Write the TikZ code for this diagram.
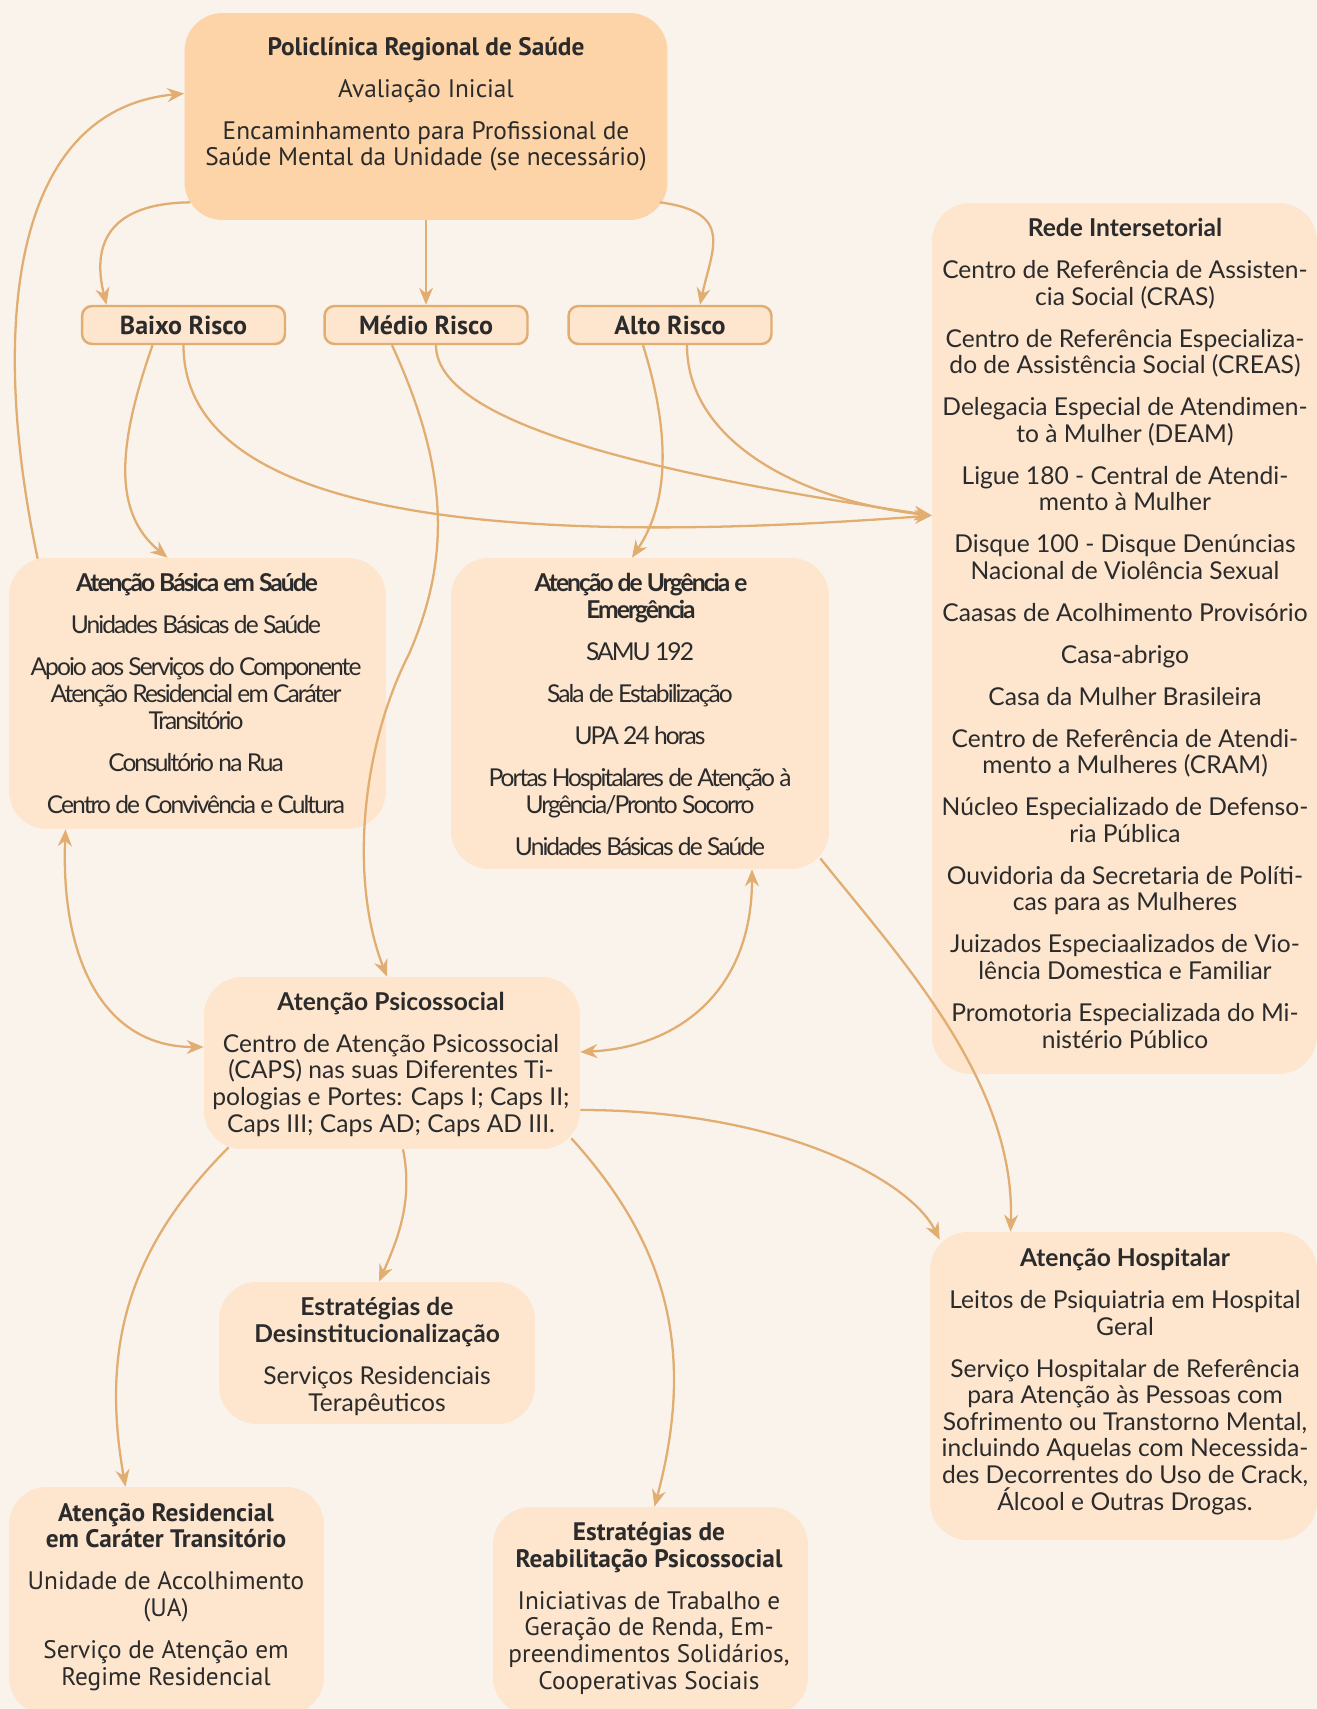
\documentclass[tikz,border=0pt]{standalone}
\usepackage{fontspec}
\setmainfont{Lato}
\newfontfamily\ptsans{PT Sans}
\newfontfamily\tightfont[LetterSpace=-8]{Lato}
\usetikzlibrary{arrows.meta,positioning,calc}
\definecolor{paper}{HTML}{FAF3EC}
\definecolor{peach}{HTML}{FDD3A8}
\definecolor{cream}{HTML}{FDE5CE}
\definecolor{linkc}{HTML}{E2AD70}
\definecolor{ink}{HTML}{2B2B2B}
\newcommand{\itemgap}{\\[8.8pt]}
\newcommand{\bodysize}{\fontsize{14}{15.1}\selectfont}
\newcommand{\ptsize}{\fontsize{14.4}{15.1}\selectfont}

\begin{document}
\begin{tikzpicture}[x=0.02cm,y=-0.02cm,
  panel/.style={fill=cream,rounded corners=0.76cm,inner sep=0pt},
  riskbox/.style={draw=linkc,line width=1.4pt,fill=cream,rounded corners=0.2cm,minimum width=4.06cm,minimum height=0.76cm,inner sep=0pt,text=ink,font=\ptsans\bfseries\fontsize{14.8}{15}\selectfont},
  txt/.style={align=center,anchor=base,inner sep=0pt,text=ink,font=\bodysize},
  link/.style={draw=linkc,line width=1.3pt,-{Stealth[length=0.34cm,width=0.28cm]}},
  both/.style={link,{Stealth[length=0.34cm,width=0.28cm]}-{Stealth[length=0.34cm,width=0.28cm]}}]

  \path[use as bounding box] (0,0) rectangle (1317,1709);
  \fill[paper] (0,0) rectangle (1317,1709);

  % boxes
  \node[panel,fill=peach,minimum width=9.66cm,minimum height=4.14cm] (poli) at (426,116.5) {};
  \node[riskbox] (baixo) at (183.5,325) {Baixo Risco};
  \node[riskbox] (medio) at (426,325) {Médio Risco};
  \node[riskbox] (alto) at (670,325) {Alto Risco};
  \node[panel,minimum width=7.7cm,minimum height=17.42cm] (rede) at (1124.5,638.5) {};
  \node[panel,minimum width=7.54cm,minimum height=5.42cm] (basica) at (197.5,693.5) {};
  \node[panel,minimum width=7.56cm,minimum height=6.22cm] (urgencia) at (640,713.5) {};
  \node[panel,minimum width=7.52cm,minimum height=3.44cm] (psico) at (392,1063) {};
  \node[panel,minimum width=6.32cm,minimum height=2.84cm] (desinst) at (377,1353) {};
  \node[panel,minimum width=6.3cm,minimum height=4.56cm] (resid) at (166.5,1601) {};
  \node[panel,minimum width=6.3cm,minimum height=4.16cm] (reab) at (650.5,1611) {};
  \node[panel,minimum width=7.74cm,minimum height=6.16cm] (hosp) at (1123.5,1386) {};

  % policlinica -> risco
  \draw[link] ([xshift=0.12cm,yshift=0.36cm]poli.south west) .. controls +(-86,1) and +(-14,-56) .. ([xshift=-1.54cm]baixo.north);
  \draw[link] (poli) -- (medio);
  \draw[link] ([xshift=-0.16cm,yshift=0.36cm]poli.south east) .. controls +(75,10) and +(12,-56) .. ([xshift=0.6cm]alto.north);

  % risco -> servicos
  \draw[link] ([xshift=-0.62cm]baixo.south) .. controls +(-35,100) and +(-55,-45) .. ([xshift=-0.6cm]basica.north);
  \draw[link] (baixo.south) .. controls +(0,196) and +(-332,25) .. ([yshift=2.46cm]rede.west);
  \draw[link] ([xshift=-0.68cm]medio.south) .. controls +(58,126) and (450,560) .. (409,654)
    .. controls (360,750) and +(-37,-94) .. ([xshift=-0.1cm]psico.north);
  \draw[link] ([xshift=0.2cm]medio.south) .. controls +(0,86) and +(-232,-35) .. ([yshift=2.46cm]rede.west);
  \draw[link] ([xshift=-0.54cm]alto.south) .. controls +(25,80) and +(40,-60) .. ([xshift=-0.16cm]urgencia.north);
  \draw[link] ([xshift=0.34cm]alto.south) .. controls +(0,96) and +(-132,-15) .. ([yshift=2.46cm]rede.west);

  % retorno
  \draw[link] ([xshift=0.58cm,yshift=-0.02cm]basica.north west) .. controls +(-48,-226) and +(-175,16.5) .. ([yshift=0.46cm]poli.west);

  % psicossocial
  \draw[both] ([xshift=-2.64cm]basica.south) .. controls +(-5,130) and +(-100,0) .. ([yshift=0.32cm]psico.west);
  \draw[both] ([xshift=2.24cm]urgencia.south) .. controls +(0,120) and +(100,-5) .. ([yshift=0.22cm]psico.east);
  \draw[link] ([xshift=-0.18cm,yshift=0.22cm]urgencia.south east) .. controls +(80,100) and +(5,-150) .. ([xshift=-2.26cm]hosp.north);
  \draw[link] ([yshift=-0.94cm]psico.east) .. controls +(200,0) and +(-30,-60) .. ([xshift=0.2cm,yshift=-0.16cm]hosp.north west);
  \draw[link] ([xshift=0.5cm,yshift=0.04cm]psico.south west) .. controls +(-100,100) and +(-25,-140) .. ([xshift=-0.82cm]resid.north);
  \draw[link] ([xshift=0.22cm]psico.south) .. controls +(10,50) and +(20,-45) .. ([xshift=0.04cm]desinst.north);
  \draw[link] ([xshift=-0.18cm,yshift=0.22cm]psico.south east) .. controls +(100,110) and +(40,-150) .. ([xshift=0.08cm]reab.north);

  % texts (base = last line)
  \node[txt,font=\ptsans\ptsize] (poli-txt) at (426,166)
    {\textbf{Policlínica Regional de Saúde}\itemgap Avaliação Inicial\itemgap
     Encaminhamento para Profissional de\\Saúde Mental da Unidade (se necessário)};
  \node[txt] (rede-txt) at (1125,1048)
    {\textbf{Rede Intersetorial}\itemgap
     Centro de Referência de Assisten-\\cia Social (CRAS)\itemgap
     Centro de Referência Especializa-\\do de Assistência Social (CREAS)\itemgap
     Delegacia Especial de Atendimen-\\to à Mulher (DEAM)\itemgap
     Ligue 180 - Central de Atendi-\\mento à Mulher\itemgap
     Disque 100 - Disque Denúncias\\Nacional de Violência Sexual\itemgap
     Caasas de Acolhimento Provisório\itemgap
     Casa-abrigo\itemgap
     Casa da Mulher Brasileira\itemgap
     Centro de Referência de Atendi-\\mento a Mulheres (CRAM)\itemgap
     Núcleo Especializado de Defenso-\\ria Pública\itemgap
     Ouvidoria da Secretaria de Políti-\\cas para as Mulheres\itemgap
     Juizados Especiaalizados de Vio-\\lência Domestica e Familiar\itemgap
     Promotoria Especializada do Mi-\\nistério Público};
  \node[txt,font=\tightfont\bodysize] (basica-txt) at (196,813)
    {\textbf{Atenção Básica em Saúde}\itemgap Unidades Básicas de Saúde\itemgap
     Apoio aos Serviços do Componente\\Atenção Residencial em Caráter\\Transitório\itemgap
     Consultório na Rua\itemgap Centro de Convivência e Cultura};
  \node[txt,font=\tightfont\bodysize] (urgencia-txt) at (640,855)
    {\textbf{Atenção de Urgência e}\\\textbf{Emergência}\itemgap SAMU 192\itemgap
     Sala de Estabilização\itemgap UPA 24 horas\itemgap
     Portas Hospitalares de Atenção à\\Urgência/Pronto Socorro\itemgap
     Unidades Básicas de Saúde};
  \node[txt] (psico-txt) at (391,1132)
    {\textbf{Atenção Psicossocial}\itemgap Centro de Atenção Psicossocial\\(CAPS) nas suas Diferentes Ti-\\pologias e Portes: Caps I; Caps II;\\Caps III; Caps AD; Caps AD III.};
  \node[txt] (desinst-txt) at (377,1411)
    {\textbf{Estratégias de}\\\textbf{Desinstitucionalização}\itemgap Serviços Residenciais\\Terapêuticos};
  \node[txt,font=\ptsans\ptsize] (resid-txt) at (166,1685)
    {\textbf{Atenção Residencial}\\\textbf{em Caráter Transitório}\itemgap
     Unidade de Accolhimento\\(UA)\itemgap Serviço de Atenção em\\Regime Residencial};
  \node[txt,font=\ptsans\ptsize] (reab-txt) at (649,1689)
    {\textbf{Estratégias de}\\\textbf{Reabilitação Psicossocial}\itemgap
     Iniciativas de Trabalho e\\Geração de Renda, Em-\\preendimentos Solidários,\\Cooperativas Sociais};
  \node[txt] (hosp-txt) at (1125,1510)
    {\textbf{Atenção Hospitalar}\itemgap Leitos de Psiquiatria em Hospital\\Geral\itemgap
     Serviço Hospitalar de Referência\\para Atenção às Pessoas com\\Sofrimento ou Transtorno Mental,\\incluindo Aquelas com Necessida-\\des Decorrentes do Uso de Crack,\\Álcool e Outras Drogas.};
\end{tikzpicture}
\end{document}
